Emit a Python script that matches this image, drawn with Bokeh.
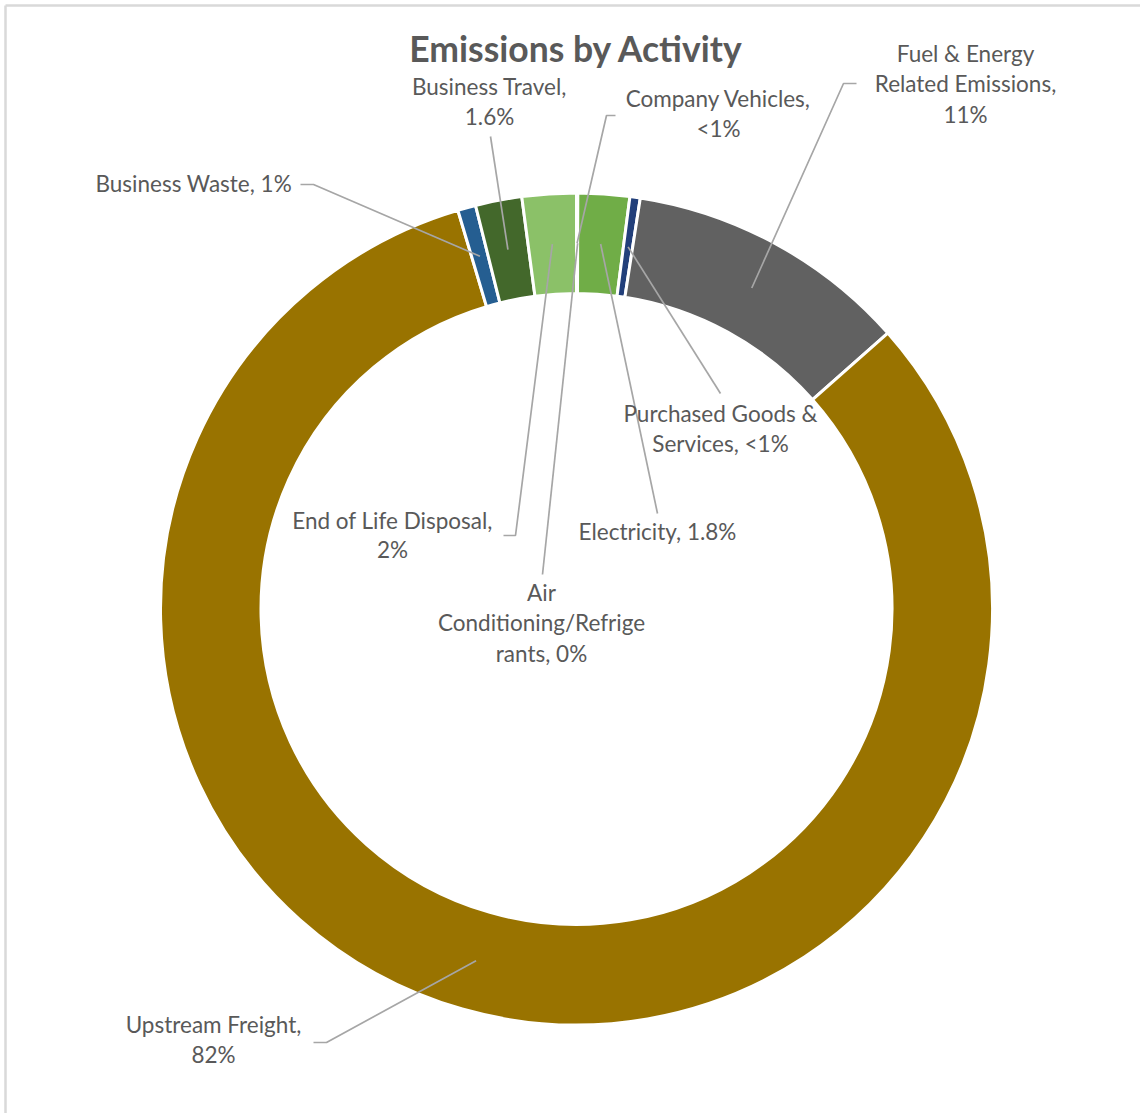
import math
from bokeh.plotting import figure
from bokeh.models import Range1d
from bokeh.core.properties import value
from bokeh.embed import file_html
from bokeh.resources import INLINE

# ---------------- data ----------------
categories = ["Company Vehicles", "Air Conditioning/Refrigerants", "Electricity",
              "Purchased Goods & Services", "Fuel & Energy Related Emissions",
              "Upstream Freight", "Business Waste", "Business Travel", "End of Life Disposal"]
shares = [0.05, 0.0, 2.0, 0.4, 11.0, 81.9, 0.7, 1.8, 2.1]
share_labels = ["<1%", "0%", "1.8%", "<1%", "11%", "82%", "1%", "1.6%", "2%"]
colors = ["#7f7f7f", "#a5a5a5", "#70ad47", "#223f7a", "#616161",
          "#997300", "#255e91", "#43682b", "#8bc168"]

# ---------------- layout (pixel coordinates, y downward) ----------------
W, H = 1140, 1113
CX, CY = 576, 608.5
R_OUT, R_IN = 416, 315.5
LABEL_FS = 22.5
TITLE_FS = 35.5

def Y(py):
    return H - py

# label lines, anchor x, baselines, alignment
label_lines = {
    "Company Vehicles": (["Company Vehicles,", "<1%"], 718, [107, 137], "center"),
    "Air Conditioning/Refrigerants": (["Air", "Conditioning/Refrige", "rants, 0%"], 541, [601, 631, 662], "center"),
    "Electricity": (["Electricity, 1.8%"], 657, [540], "center"),
    "Purchased Goods & Services": (["Purchased Goods &", "Services, <1%"], 720, [422, 452], "center"),
    "Fuel & Energy Related Emissions": (["Fuel & Energy", "Related Emissions,", "11%"], 965, [62, 92, 123], "center"),
    "Upstream Freight": (["Upstream Freight,", "82%"], 213, [1033, 1063], "center"),
    "Business Waste": (["Business Waste, 1%"], 95, [192], "left"),
    "Business Travel": (["Business Travel,", "1.6%"], 489, [95, 125], "center"),
    "End of Life Disposal": (["End of Life Disposal,", "2%"], 392, [529, 558], "center"),
}
# leader line points on the label side (pixel coords)
leader_start = {
    "Company Vehicles": [(615, 115), (606, 115)],
    "Air Conditioning/Refrigerants": [(542, 574)],
    "Electricity": [(657, 513)],
    "Purchased Goods & Services": [(720, 393)],
    "Fuel & Energy Related Emissions": [(856, 83), (843, 83)],
    "Upstream Freight": [(313, 1042), (326, 1042)],
    "Business Waste": [(300, 184), (313, 184)],
    "Business Travel": [(490, 136)],
    "End of Life Disposal": [(503, 535), (515, 535)],
}

p = figure(width=W, height=H, x_range=Range1d(0, W), y_range=Range1d(0, H),
           output_backend="svg", toolbar_location=None, min_border=0)
p.axis.visible = False
p.grid.visible = False
p.outline_line_color = None
p.background_fill_color = "white"
p.border_fill_color = "white"

# chart frame (top & left edges visible)
p.line([5, W], [Y(5), Y(5)], line_color="#d9d9d9", line_width=2.5)
p.line([5, 5], [Y(5), 0], line_color="#d9d9d9", line_width=2.5)

total = sum(shares)
cum = 0.0
mids = []
xs, ys, starts, ends, cols = [], [], [], [], []
for cat, s, c in zip(categories, shares, colors):
    a0 = cum / total * 360.0
    cum += s
    a1 = cum / total * 360.0
    mids.append((a0 + a1) / 2)
    if s > 0:
        xs.append(CX); ys.append(Y(CY))
        starts.append(math.radians(90 - a1)); ends.append(math.radians(90 - a0))
        cols.append(c)

p.annular_wedge(x=xs, y=ys, inner_radius=R_IN, outer_radius=R_OUT,
                start_angle=starts, end_angle=ends, direction="anticlock",
                fill_color=cols, line_color="white", line_width=3)

# leader lines
r_mid = (R_IN + R_OUT) / 2
for cat, m in zip(categories, mids):
    px = CX + r_mid * math.sin(math.radians(m))
    py = CY - r_mid * math.cos(math.radians(m))
    pts = leader_start[cat] + [(px, py)]
    p.line([q[0] for q in pts], [Y(q[1]) for q in pts], line_color="#a6a6a6", line_width=1.7)

# labels
for cat in categories:
    lines, lx, bases, align = label_lines[cat]
    for t, b in zip(lines, bases):
        p.text(x=[lx], y=[Y(b - 0.42 * LABEL_FS)], text=[t], text_align=align,
               text_baseline="alphabetic", text_font=value("Lato"),
               text_font_size=f"{LABEL_FS}px", text_color="#595959")

p.text(x=[576], y=[Y(63 - 0.42 * TITLE_FS)], text=["Emissions by Activity"], text_align="center",
       text_baseline="alphabetic", text_font=value("Lato"), text_font_style="bold",
       text_font_size=f"{TITLE_FS}px", text_color="#595959")

open("out.html", "w").write(file_html(p, INLINE))
